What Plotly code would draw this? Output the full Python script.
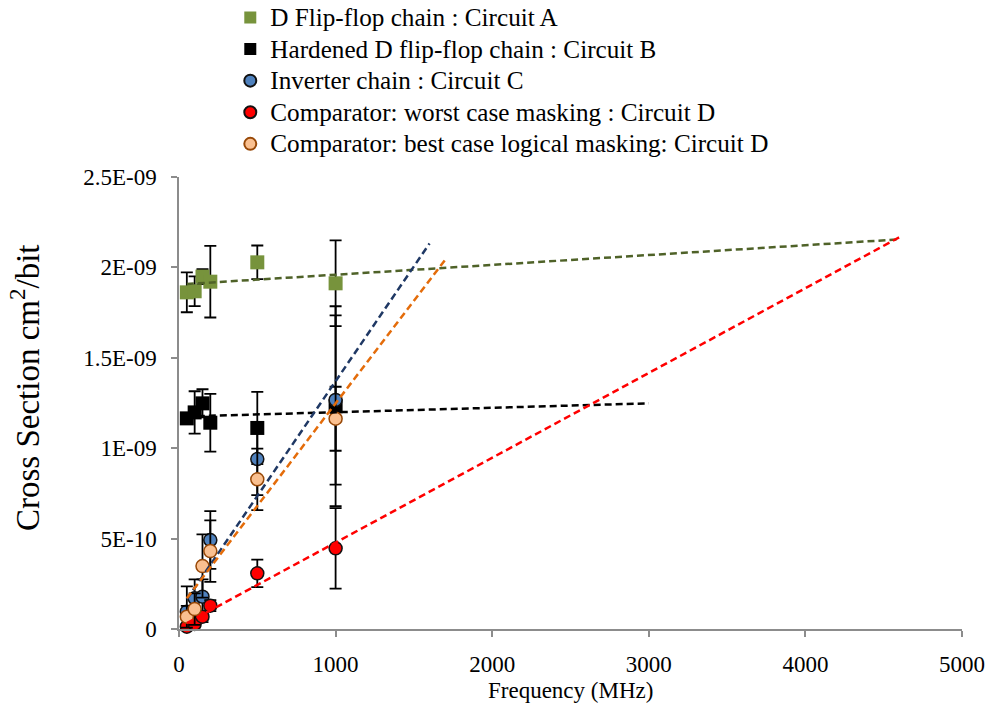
import numpy as np
import plotly.graph_objects as go

# Frequency (MHz) at which every circuit was measured
freq_mhz = [50, 100, 150, 200, 500, 1000]

# Cross sections (cm^2/bit) and their error half-widths
circuit_a = [1.862e-9, 1.868e-9, 1.949e-9, 1.921e-9, 2.028e-9, 1.912e-9]
circuit_a_err = [0.110e-9, 0.082e-9, 0.042e-9, 0.198e-9, 0.093e-9, 0.237e-9]

circuit_b = [1.165e-9, 1.198e-9, 1.248e-9, 1.141e-9, 1.112e-9, 1.232e-9]
circuit_b_err = [0.030e-9, 0.117e-9, 0.078e-9, 0.160e-9, 0.200e-9, 0.553e-9]

circuit_c = [0.096e-9, 0.170e-9, 0.179e-9, 0.492e-9, 0.940e-9, 1.267e-9]
circuit_c_err = [0.140e-9, 0.105e-9, 0.096e-9, 0.160e-9, 0.200e-9, 0.468e-9]

circuit_d_worst = [0.013e-9, 0.028e-9, 0.068e-9, 0.129e-9, 0.308e-9, 0.446e-9]
circuit_d_worst_err = [0.015e-9, 0.020e-9, 0.030e-9, 0.030e-9, 0.076e-9, 0.223e-9]

circuit_d_best = [0.068e-9, 0.110e-9, 0.348e-9, 0.431e-9, 0.828e-9, 1.163e-9]
circuit_d_best_err = [0.060e-9, 0.087e-9, 0.175e-9, 0.170e-9, 0.170e-9, 0.177e-9]

series_names = [
    "D Flip-flop chain : Circuit A",
    "Hardened D flip-flop chain : Circuit B",
    "Inverter chain : Circuit C",
    "Comparator: worst case masking : Circuit D",
    "Comparator: best case logical masking: Circuit D",
]

# Linear trendlines are extended (forecast) up to these frequencies
trend_end_mhz = [4600, 3000, 1600, 4600, 1700]

y_tick_vals = [0, 5e-10, 1e-9, 1.5e-9, 2e-9, 2.5e-9]
y_tick_text = ["0", "5E-10", "1E-09", "1.5E-09", "2E-09", "2.5E-09"]
x_tick_vals = [0, 1000, 2000, 3000, 4000, 5000]

FONT = "Liberation Serif"

styles = [
    dict(symbol="square", size=14, color="#77933C", line=dict(width=0)),
    dict(symbol="square", size=14, color="#000000", line=dict(width=0)),
    dict(symbol="circle", size=13, color="#4F81BD", line=dict(width=1.5, color="#111111")),
    dict(symbol="circle", size=13, color="#FF0000", line=dict(width=1.5, color="#111111")),
    dict(symbol="circle", size=13, color="#FAC090", line=dict(width=1.5, color="#984807")),
]
trend_colors = ["#4F6228", "#000000", "#1F3864", "#FF0000", "#E46C0A"]

values = [circuit_a, circuit_b, circuit_c, circuit_d_worst, circuit_d_best]
errors = [circuit_a_err, circuit_b_err, circuit_c_err, circuit_d_worst_err, circuit_d_best_err]

fig = go.Figure()

x = np.array(freq_mhz, dtype=float)
for name, y, err, mk in zip(series_names, values, errors, styles):
    y = np.array(y)
    err = np.array(err)
    fig.add_trace(go.Scatter(
        x=x, y=y, mode="markers",
        # legend rows are packed tighter than the label size would give
        name=f'<span style="font-size:25.2px">{name}</span>',
        marker=mk,
        error_y=dict(type="data", array=err, arrayminus=np.minimum(err, y),
                     color="#000000", thickness=1.8, width=6),
        cliponaxis=False,
    ))

# Least-squares trendlines drawn over the points
for y, end, col in zip(values, trend_end_mhz, trend_colors):
    slope, icpt = np.polyfit(x, np.array(y), 1)
    tx = np.array([x.min(), end])
    fig.add_trace(go.Scatter(
        x=tx, y=slope * tx + icpt, mode="lines", showlegend=False,
        hoverinfo="skip", line=dict(color=col, width=2.5, dash="7px,4px"),
    ))

axis_common = dict(
    showline=True, linecolor="#8C8C8C", linewidth=1.5,
    ticks="outside", ticklen=6, tickwidth=1.5, tickcolor="#8C8C8C",
    showgrid=False, zeroline=False,
    tickfont=dict(family=FONT, size=23, color="#000000"),
)

fig.update_layout(
    width=990, height=710,
    margin=dict(l=179, r=28, t=177, b=81, autoexpand=False),
    paper_bgcolor="white", plot_bgcolor="white",
    font=dict(family=FONT, color="#000000"),
    showlegend=True,
    legend=dict(
        x=0.0655, y=1.399, xanchor="left", yanchor="top",
        font=dict(family=FONT, size=22, color="#000000"),
        bgcolor="rgba(0,0,0,0)", itemsizing="constant",
        tracegroupgap=0,
    ),
    xaxis=dict(range=[0, 5000], tickvals=x_tick_vals, ticklabelstandoff=8, **axis_common),
    yaxis=dict(range=[0, 2.5e-9], tickvals=y_tick_vals, ticktext=y_tick_text,
               ticklabelstandoff=10, **axis_common),
    annotations=[
        dict(text="Cross Section cm<sup>2</sup>/bit", textangle=-90,
             xref="paper", yref="paper", x=(25 - 179) / 783, y=(629 - 388) / 452,
             xanchor="center", yanchor="middle", showarrow=False,
             font=dict(family=FONT, size=33, color="#000000")),
        dict(text="Frequency (MHz)",
             xref="paper", yref="paper", x=0.5, y=(629 - 690) / 452,
             xanchor="center", yanchor="middle", showarrow=False,
             font=dict(family=FONT, size=23, color="#000000")),
    ],
)

fig.write_html("out.html")
